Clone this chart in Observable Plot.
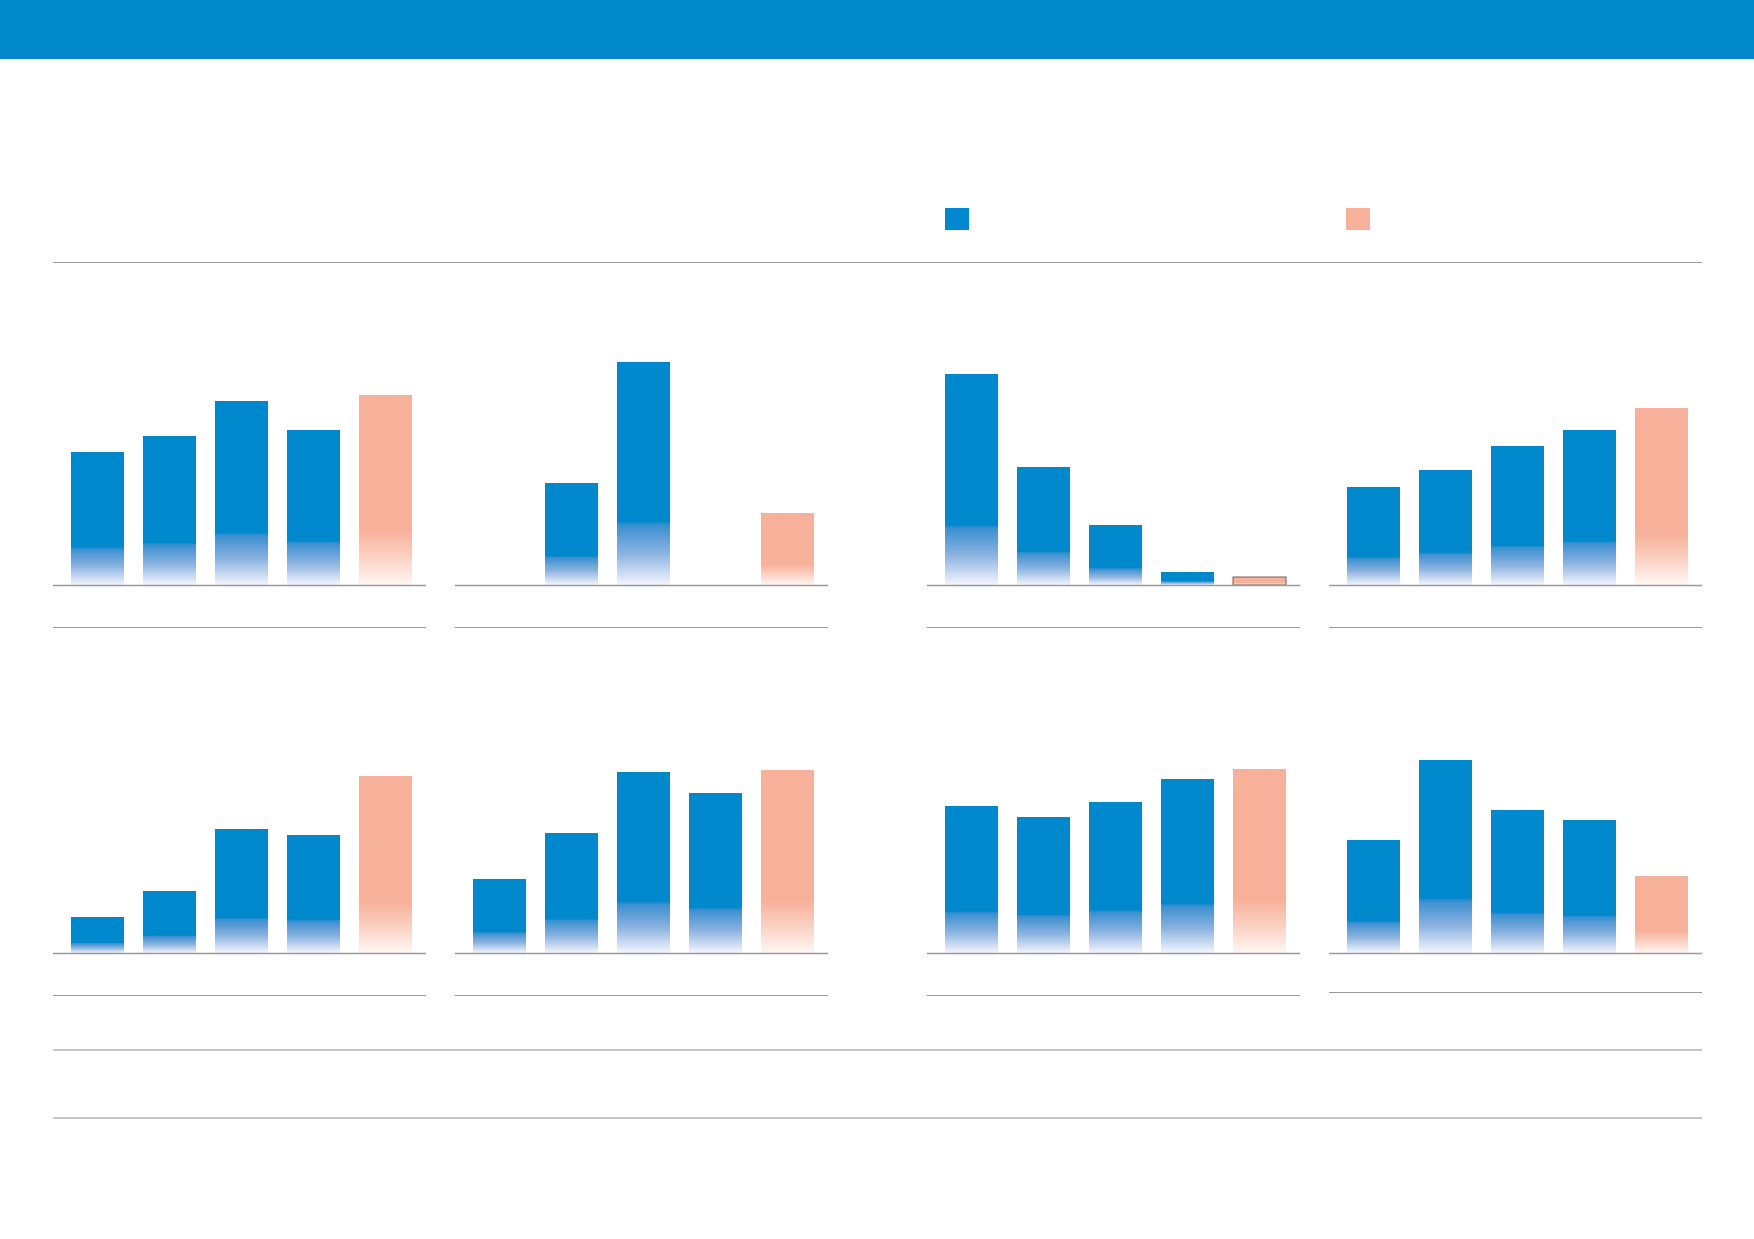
<!DOCTYPE html>
<html>
<head>
<meta charset="utf-8">
<script src="https://cdn.jsdelivr.net/npm/d3@7"></script>
<script src="https://cdn.jsdelivr.net/npm/@observablehq/plot@0.6"></script>
<style>
  html, body { margin: 0; padding: 0; background: #ffffff; }
  #page { position: relative; width: 1754px; height: 1239px; overflow: hidden; background: #fff; font-family: "Noto Sans", sans-serif; }
  .abs { position: absolute; }
  .rule { position: absolute; background: #9a9a9a; height: 1.3px; }
  .rule.light { background: #c6c6c6; height: 2px; }
</style>
</head>
<body>
<div id="page"></div>
<script>
// ---- data ----
const periods = [1, 2, 3, 4, 5];
const barType = ["actual", "actual", "actual", "actual", "forecast"];

// values per panel (relative units)
const panel1 = [133, 149, 184, 155, 190];
const panel2 = [null, 102, 223, null, 72];
const panel3 = [211, 118, 60, 13, 8];
const panel4 = [98, 115, 139, 155, 177];
const panel5 = [36, 62, 124, 118, 177];
const panel6 = [74, 120, 181, 160, 183];
const panel7 = [147, 136, 151, 174, 184];
const panel8 = [113, 193, 143, 133, 77];

const panelValues = [panel1, panel2, panel3, panel4, panel5, panel6, panel7, panel8];

// ---- layout ----
const page = document.getElementById("page");
const colLeft = [53, 455, 927, 1329];
const panelW = 373;
const rowBase = [585, 953];
const plotH = 252;
const blue = "#0088cc";
const salmon = "#f7b19b";

function add(cls, style) {
  const d = document.createElement("div");
  d.className = cls;
  Object.assign(d.style, style);
  page.appendChild(d);
  return d;
}

// header band
add("abs", {left: "0px", top: "0px", width: "1754px", height: "59px", background: "#0088cb"});
// legend swatches
add("abs", {left: "945px", top: "208px", width: "24px", height: "22px", background: blue});
add("abs", {left: "1346px", top: "208px", width: "24px", height: "22px", background: salmon});
// top rule
add("rule", {left: "53px", top: "261.5px", width: "1649px"});
// bottom rules
add("rule light", {left: "53px", top: "1049px", width: "1649px"});
add("rule light", {left: "53px", top: "1117px", width: "1649px"});

panelValues.forEach((vals, i) => {
  const row = Math.floor(i / 4), col = i % 4;
  const data = periods.map((p, k) => ({period: p, value: vals[k], type: barType[k]}))
                      .filter(d => d.value != null);
  const gb = "gb" + i, gs = "gs" + i;
  const defs = () => {
    const g = d3.create("svg:defs");
    const lb = g.append("linearGradient").attr("id", gb).attr("x1", 0).attr("y1", 0).attr("x2", 0).attr("y2", 1);
    [[0, blue], [0.715, blue], [0.73, "#3a8fd0"], [0.86, "#8cb3e0"], [1, "#f4f6fc"]]
      .forEach(([o, c]) => lb.append("stop").attr("offset", o).attr("stop-color", c));
    const ls = g.append("linearGradient").attr("id", gs).attr("x1", 0).attr("y1", 0).attr("x2", 0).attr("y2", 1);
    [[0, salmon], [0.715, salmon], [0.86, "#fbd3c5"], [1, "#fff7f4"]]
      .forEach(([o, c]) => ls.append("stop").attr("offset", o).attr("stop-color", c));
    return g.node();
  };
  const chart = Plot.plot({
    width: panelW,
    height: plotH,
    marginTop: 0, marginBottom: 2, marginLeft: 0, marginRight: 0,
    x: {domain: periods, paddingInner: 0.27, paddingOuter: 0.216, align: 0.54, axis: null},
    y: {domain: [0, 250], axis: null},
    marks: [
      defs,
      Plot.barY(data.filter(d => d.type === "actual"), {x: "period", y: "value", fill: `url(#${gb})`}),
      Plot.barY(data.filter(d => d.type === "forecast"), {x: "period", y: "value", fill: `url(#${gs})`}),
      Plot.barY(data.filter(d => d.type === "forecast" && d.value < 10), {x: "period", y: "value", fill: "none", stroke: "#7d5a52", strokeWidth: 1}),
      Plot.ruleY([0], {stroke: "#9a9a9a", strokeWidth: 1.3})
    ]
  });
  const holder = add("abs", {left: colLeft[col] + "px", top: (rowBase[row] - 250) + "px", width: panelW + "px", height: plotH + "px"});
  holder.appendChild(chart);
  // second rule under each panel
  const off = (row === 1 && col === 3) ? 39 : 42;
  add("rule", {left: colLeft[col] + "px", top: (rowBase[row] + off) + "px", width: panelW + "px"});
});
</script>
</body>
</html>
